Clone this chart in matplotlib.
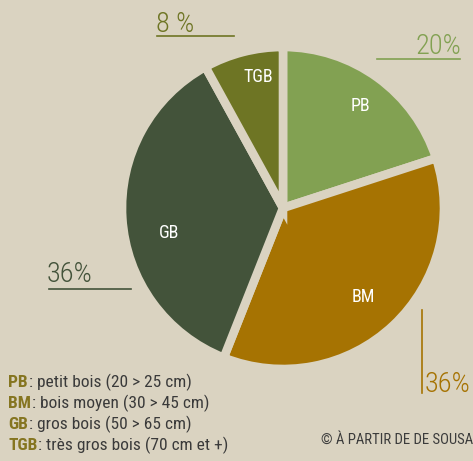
import matplotlib.pyplot as plt
from matplotlib import font_manager

# wood size classes
codes = ["PB", "BM", "GB", "TGB"]
shares = [20, 36, 36, 8]
descriptions = [
    ": petit bois (20 > 25 cm)",
    ": bois moyen (30 > 45 cm)",
    ": gros bois (50 > 65 cm)",
    ": très gros bois (70 cm et +)",
]
colors = ["#82a152", "#a67302", "#43533a", "#6e7524"]
bg = "#dad3c1"

# a condensed sans face if one is around
names = {f.name for f in font_manager.fontManager.ttflist}
narrow = "DejaVu Sans"
for cand in ["Roboto Condensed", "Liberation Sans Narrow", "PT Sans Narrow",
             "Fira Sans Condensed", "Open Sans Condensed", "Asap Condensed",
             "Encode Sans Condensed", "Roboto"]:
    if cand in names:
        narrow = cand
        break
fam = [narrow, "DejaVu Sans"]

W, H = 473, 461
fig = plt.figure(figsize=(W / 100, H / 100), dpi=100, facecolor=bg)
ax = fig.add_axes([0, 0, 1, 1])


def Y(y):
    # image pixel row -> data y
    return H - y


wedges, _ = ax.pie(
    shares,
    colors=colors,
    startangle=90,
    counterclock=False,
    center=(283, Y(208)),
    radius=161,
    wedgeprops=dict(edgecolor=bg, linewidth=6.2),
    frame=True,
)
ax.set_xlim(0, W)
ax.set_ylim(0, H)
ax.axis("off")

# labels inside slices
inner = {"PB": (360, 106), "BM": (363, 297), "GB": (169, 233), "TGB": (258, 77)}
for c in codes:
    x, y = inner[c]
    ax.text(x, Y(y), c, color="white", fontsize=13, ha="center", va="center", family=fam)

# percentage callouts
pct_style = dict(fontsize=20.5, family=fam, va="baseline", fontweight="light")
ax.text(156, Y(32), f"{shares[3]} %", color=colors[3], ha="left", **pct_style)
ax.plot([157, 234], [Y(36), Y(36)], color=colors[3], lw=1.2)

ax.text(461, Y(54), f"{shares[0]}%", color=colors[0], ha="right", **pct_style)
ax.plot([377, 460], [Y(59), Y(59)], color=colors[0], lw=1.2)

ax.text(47, Y(282), f"{shares[2]}%", color=colors[2], ha="left", **pct_style)
ax.plot([49, 131], [Y(289), Y(289)], color=colors[2], lw=1.2)

ax.text(425, Y(392), f"{shares[1]}%", color=colors[1], ha="left", **pct_style)
ax.plot([422, 422], [Y(310), Y(393)], color=colors[1], lw=1.2)

# legend lines: bold code + description
fig.canvas.draw()
renderer = fig.canvas.get_renderer()
rows = [382, 403, 424, 445]
for c, d, y in zip(codes, descriptions, rows):
    t = ax.text(8, Y(y), c, color="#857520", fontweight="bold", fontsize=12.5,
                family=fam, va="center")
    bb = t.get_window_extent(renderer)
    ax.text(bb.x1 + 1, Y(y), d, color="#3a3a3a", fontsize=12.5, family=fam, va="center")

ax.text(321, Y(440), "© À PARTIR DE DE SOUSA", color="#3c3c3c", fontsize=10.6,
        family=fam, va="center", ha="left")

fig.savefig("out.png", dpi=100, facecolor=bg)
